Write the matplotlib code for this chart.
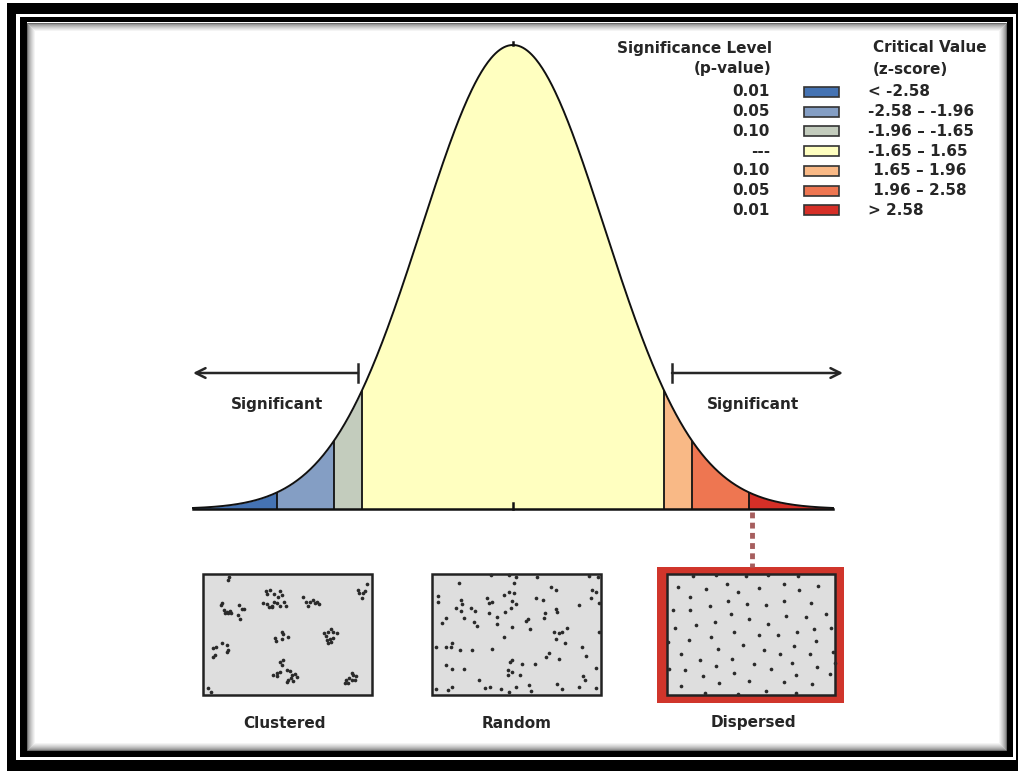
import numpy as np
import matplotlib
matplotlib.use("Agg")
import matplotlib.pyplot as plt
from matplotlib.patches import Rectangle

# ---------------- data ----------------
z_breaks = [-3.5, -2.58, -1.96, -1.65, 1.65, 1.96, 2.58, 3.5]
band_colors = ["#4573b3", "#849ec4", "#c3ccbd", "#ffffc0", "#f9b986", "#ee7651", "#d62f27"]
p_values = ["0.01", "0.05", "0.10", "---", "0.10", "0.05", "0.01"]
z_labels = ["< -2.58", "-2.58 \u2013 -1.96", "-1.96 \u2013 -1.65", "-1.65 \u2013 1.65",
            " 1.65 \u2013 1.96", " 1.96 \u2013 2.58", "> 2.58"]
panel_labels = ["Clustered", "Random", "Dispersed"]

# dot positions (panel-image units, y downwards)
clustered_x = [87, 85, 65, 62, 72, 80, 85, 90, 93, 75, 118, 125, 132, 115, 120,
               198, 210, 200, 222, 240, 245, 235, 190, 200, 208, 215, 222, 230, 240, 252, 258, 215,
               310, 318, 325, 340, 345, 350, 358, 330,
               500, 475, 478, 490, 495, 485,
               245, 250, 225, 228, 245, 265,
               372, 378, 385, 392, 400, 410, 380, 390, 398, 385, 392,
               40, 48, 66, 82, 85, 80, 40, 46,
               240, 250, 245, 262, 270, 240, 232, 220, 230, 275, 285, 290, 265, 272, 262, 280,
               455, 460, 468, 448, 438, 436, 444, 455, 465,
               25, 32]
clustered_y = [22, 30, 98, 104, 120, 125, 130, 122, 130, 128, 105, 118, 118, 135, 148,
               62, 60, 72, 72, 62, 75, 80, 100, 102, 110, 108, 95, 100, 108, 95, 108, 112,
               80, 95, 108, 90, 100, 95, 103, 95,
               42, 60, 70, 68, 62, 85,
               185, 192, 205, 212, 208, 200,
               190, 198, 185, 178, 185, 188, 210, 208, 205, 218, 215,
               235, 232, 218, 225, 240, 245, 262, 255,
               275, 270, 285, 300, 302, 305, 310, 315, 318, 315, 313, 322, 330, 325, 335, 332,
               308, 315, 318, 325, 330, 340, 338, 330, 330,
               355, 365]

random_x = [90, 185, 240, 262, 325, 480, 508, 255, 365, 380, 490, 500, 26, 28, 95, 100, 82, 95,
            125, 138, 175, 190, 180, 180, 225, 240, 255, 250, 262, 245, 228, 320, 342, 485, 450,
            510, 52, 40, 105, 135, 145, 205, 205, 250, 290, 298, 302, 348, 345, 380, 385, 375,
            390, 398, 382, 415, 510, 225, 22, 50, 68, 65, 92, 130, 190, 408, 460, 470, 360, 352,
            390, 250, 242, 280, 318, 52, 68, 105, 500, 238, 248, 238, 272, 462, 468, 150, 182,
            168, 215, 240, 262, 300, 305, 385, 400, 450, 500, 22, 58, 68]
random_y = [40, 15, 15, 22, 20, 18, 20, 40, 52, 60, 60, 65, 78, 95, 90, 103, 113, 122,
            115, 122, 85, 95, 100, 128, 75, 65, 70, 92, 103, 115, 125, 85, 90, 85, 105,
            100, 145, 158, 145, 155, 168, 140, 162, 172, 153, 148, 178, 130, 145, 118, 125, 185,
            190, 185, 208, 175, 185, 202, 230, 230, 218, 232, 240, 240, 238, 218, 232, 258, 248, 262,
            268, 270, 275, 282, 283, 285, 297, 297, 293, 300, 305, 315, 315, 318, 330, 330, 350,
            355, 358, 365, 352, 345, 362, 343, 358, 350, 353, 357, 360, 350]

dispersed_x = [90, 160, 248, 315, 405, 45, 128, 192, 225, 288, 362, 408, 465, 80, 195, 252, 308,
               362, 445, 30, 82, 140, 205, 258, 370, 428, 488, 155, 98, 315, 35, 212, 288, 345,
               402, 453, 505, 78, 143, 240, 302, 392, 458, 15, 165, 55, 112, 208, 272, 350, 442,
               388, 510, 160, 66, 213, 325, 462, 120, 258, 362, 398, 500, 168, 55, 448, 125, 225,
               308, 398, 515, 18]
dispersed_y = [15, 12, 15, 12, 15, 48, 55, 38, 62, 50, 38, 58, 45, 78, 90, 100, 103,
               90, 95, 118, 118, 105, 130, 143, 135, 138, 130, 152, 163, 158, 170, 182, 193, 193,
               182, 175, 170, 208, 198, 222, 237, 225, 210, 212, 235, 250, 267, 265, 280, 248, 250,
               275, 242, 285, 298, 307, 295, 288, 315, 330, 333, 313, 310, 335, 344, 340, 365, 368,
               360, 365, 275, 295]

# ---------------- figure ----------------
W, H = 1018, 771
fig = plt.figure(figsize=(W / 100, H / 100), dpi=100)
fig.patch.set_facecolor("white")
TXT = "#262626"
FONT = "DejaVu Sans"
FS = 11

bg = fig.add_axes([0, 0, 1, 1])
bg.set_xlim(0, W)
bg.set_ylim(H, 0)
bg.axis("off")

# frame (double black border with inner shadow)
bg.add_patch(Rectangle((7, 3), W - 7, H - 3, facecolor="black", edgecolor="none", zorder=0))
bg.add_patch(Rectangle((16, 14), 1000, 746, facecolor="white", edgecolor="none", zorder=0.1))
bg.add_patch(Rectangle((20, 17), 993, 740, facecolor="black", edgecolor="none", zorder=0.2))
bg.add_patch(Rectangle((27, 22), 980, 728, facecolor="white", edgecolor="none", zorder=0.3))
for i in range(9):
    g = 0.42 + 0.58 * (i / 8) ** 0.6
    bg.add_patch(Rectangle((27 + i + 0.5, 22 + i + 0.5), 980 - 2 * i - 1, 728 - 2 * i - 1,
                           facecolor="none", edgecolor=(g, g, g), lw=0.75, zorder=0.4))

# ---------------- bell curve ----------------
zl, zr = z_breaks[0], z_breaks[-1]
ymax = 1 / np.sqrt(2 * np.pi)
x0, x1, yb, yt = 193, 833, 509, 45
ax = fig.add_axes([x0 / W, 1 - yb / H, (x1 - x0) / W, (yb - yt) / H])
ax.set_xlim(zl, zr)
ax.set_ylim(0, ymax)
ax.axis("off")

def pdf(z):
    return np.exp(-0.5 * np.asarray(z) ** 2) / np.sqrt(2 * np.pi)

for i in range(len(band_colors)):
    zz = np.linspace(z_breaks[i], z_breaks[i + 1], 200)
    ax.fill_between(zz, 0, pdf(zz), color=band_colors[i], lw=0, zorder=1)
for b in z_breaks[1:-1]:
    ax.plot([b, b], [0, pdf(b)], color="#111111", lw=1.3, zorder=3, solid_capstyle="butt")
zz = np.linspace(zl, zr, 600)
ax.plot(zz, pdf(zz), color="#111111", lw=1.4, zorder=4, clip_on=False)
ax.plot([zl, zr], [0, 0], color="#111111", lw=1.8, zorder=5, clip_on=False)
ax.plot([0, 0], [0, 0.005], color="#111111", lw=1.8, zorder=5, clip_on=False)
ax.plot([0, 0], [ymax, ymax + 0.003], color="#111111", lw=1.8, zorder=5, clip_on=False)

# arrows
for xa, xb in [(358, 193), (672, 843)]:
    bg.annotate("", xy=(xb, 373), xytext=(xa, 373),
                arrowprops=dict(arrowstyle="->,head_length=0.7,head_width=0.35",
                                color=TXT, lw=1.8, shrinkA=0, shrinkB=0), zorder=6)
    bg.plot([xa, xa], [364, 382], color=TXT, lw=1.8, zorder=6)
for xc in (277, 753):
    bg.text(xc, 405, "Significant", ha="center", va="center", fontsize=FS,
            fontweight="bold", color=TXT, family=FONT, zorder=7)
bg.text(517, 378, "(Random)", ha="center", va="center", fontsize=FS,
        fontweight="bold", color=TXT, family=FONT, zorder=7)

# ---------------- legend ----------------
bg.text(772, 48, "Significance Level", ha="right", va="center", fontsize=FS,
        fontweight="bold", color=TXT, family=FONT)
bg.text(772, 69, "(p-value)", ha="right", va="center", fontsize=FS,
        fontweight="bold", color=TXT, family=FONT)
bg.text(873, 48, "Critical Value", ha="left", va="center", fontsize=FS,
        fontweight="bold", color=TXT, family=FONT)
bg.text(873, 69, "(z-score)", ha="left", va="center", fontsize=FS,
        fontweight="bold", color=TXT, family=FONT)
row0, dy = 92, 19.7
for i, (pv, zl_txt, c) in enumerate(zip(p_values, z_labels, band_colors)):
    y = row0 + i * dy
    bg.text(770, y, pv, ha="right", va="center", fontsize=FS, fontweight="bold",
            color=TXT, family=FONT)
    bg.add_patch(Rectangle((804, y - 5), 35, 10, facecolor=c, edgecolor="#333333", lw=1.2))
    bg.text(868, y, zl_txt, ha="left", va="center", fontsize=FS, fontweight="bold",
            color=TXT, family=FONT)

# ---------------- panels ----------------
bg.plot([752, 752], [512, 567], color="#a65e5e", lw=3.5, ls=(0, (1.2, 0.9)), zorder=2)
bg.add_patch(Rectangle((657, 567), 187, 136, facecolor="#d0352b", edgecolor="none", zorder=1))

panels = [((200, 570), (10, 12, 515, 375), clustered_x, clustered_y),
          ((429, 570), (10, 12, 515, 375), random_x, random_y),
          ((663, 571), (12, 10, 516, 372), dispersed_x, dispersed_y)]
for (px, py), (bx0, by0, bx1, by1), xs, ys in panels:
    pa = fig.add_axes([px / W, 1 - (py + 128) / H, 176 / W, 128 / H])
    pa.set_xlim(0, 528)
    pa.set_ylim(384, 0)
    pa.axis("off")
    pa.patch.set_alpha(0)
    pa.add_patch(Rectangle((bx0, by0), bx1 - bx0, by1 - by0, facecolor="#dedede",
                           edgecolor="#222222", lw=1.8, zorder=1))
    pa.scatter(xs, ys, s=7, color="#2a2a2a", zorder=3, linewidths=0)

for xc, lab in zip([285, 517, 753], panel_labels):
    bg.text(xc, 723, lab, ha="center", va="center", fontsize=FS, fontweight="bold",
            color=TXT, family=FONT)

fig.savefig("out.png", dpi=100)
